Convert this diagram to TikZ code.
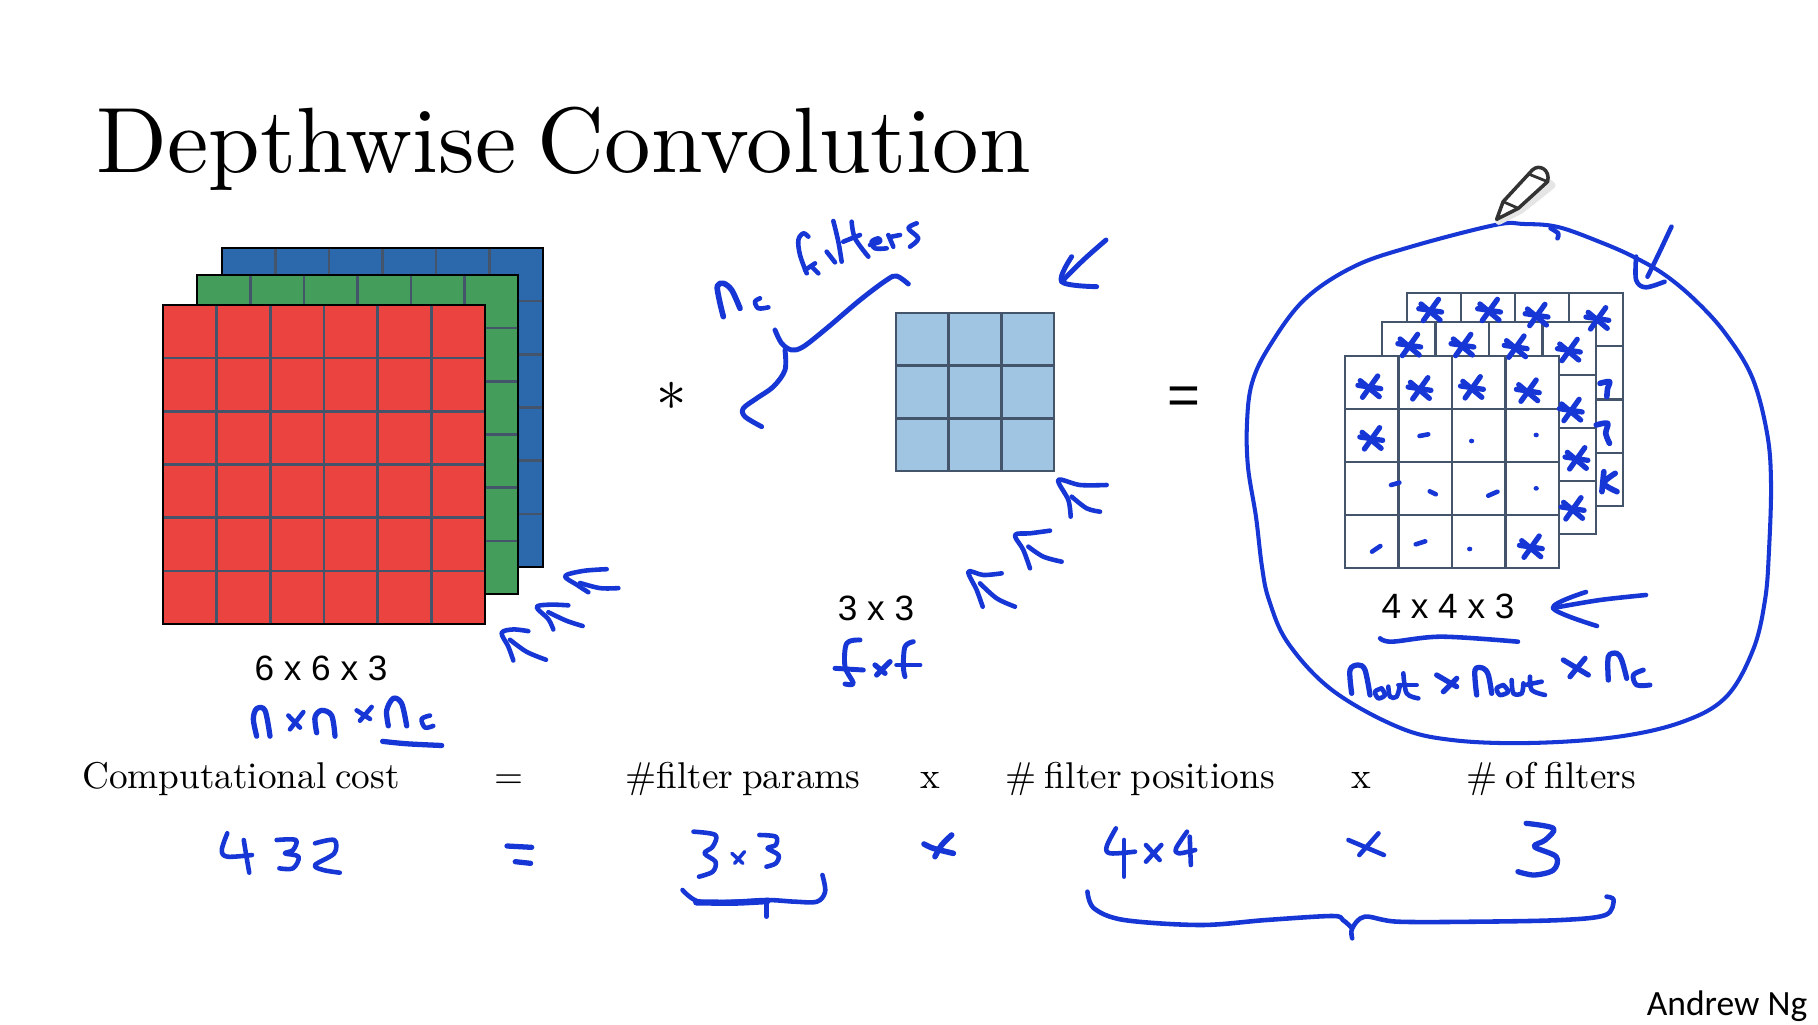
\documentclass[tikz,border=0pt]{standalone}
\usepackage{fontspec}
\newfontfamily\dimfont{Liberation Sans}
\newfontfamily\ngfont{Carlito}
\newfontfamily\slidefont{lmroman10-regular.otf}
\newfontfamily\rowfont[WordSpace=0.7]{lmroman10-regular.otf}
\definecolor{inkblue}{HTML}{1636D6}
\definecolor{redlayer}{HTML}{EA4340}
\definecolor{greenlayer}{HTML}{449D5B}
\definecolor{bluelayer}{HTML}{2C69AC}
\definecolor{filterfill}{HTML}{9FC5E2}
\definecolor{slateline}{HTML}{44546A}
\tikzset{
  ink/.style={draw=inkblue,line width=1.3pt,line cap=round,line join=round},
  titletext/.style={font=\slidefont\fontsize{26.4}{30}\selectfont,inner sep=0pt},
  costtext/.style={font=\rowfont\fontsize{10.6}{14}\selectfont,inner sep=0pt,anchor=base},
  dimtext/.style={font=\dimfont\fontsize{10}{12}\selectfont,inner sep=0pt},
  inputzone/.style={shift={(140,230)},xscale=1/3,yscale=1/2.904},
  filterzone/.style={shift={(660,200)},scale=1/3},
  wordzone/.style={shift={(780,205)},scale=1/3},
  stackzone/.style={shift={(1220,150)},xscale=0.38,yscale=1/3},
  shapezone/.style={shift={(1340,650)},scale=1/3},
  costzone/.style={shift={(60,740)},xscale=0.5485,yscale=1/3},
  boundzone/.style={shift={(960,600)},xscale=0.547,yscale=1/3},
  pics/hstar/.style={code={
    \draw[ink,line width=1.5pt] (-26,-18) -- (24,30);
    \draw[ink,line width=1.5pt] (20,-32) -- (-20,32);
    \draw[ink,line width=1.5pt] (-32,-4) -- (28,6);
  }}
}
% layer: x0,y0,x1,y1,cells,fill,inner lines,border
\newcommand{\layer}[8]{
  \fill[#6] (#1,#2) rectangle (#3,#4);
  \pgfmathsetmacro{\lastcell}{#5-1}
  \foreach \i in {1,...,\lastcell}{
    \draw[#7,line width=0.7pt] ({#1+(#3-#1)*\i/#5},#2) -- ({#1+(#3-#1)*\i/#5},#4);
    \draw[#7,line width=0.7pt] (#1,{#2+(#4-#2)*\i/#5}) -- (#3,{#2+(#4-#2)*\i/#5});
  }
  \draw[#8,line width=0.7pt] (#1,#2) rectangle (#3,#4);
}
\newcommand{\hw}[2][]{\draw[ink,#1] plot[smooth,tension=0.55] coordinates {#2};}

\begin{document}
\begin{tikzpicture}[x=0.01cm,y=-0.01cm]
  \useasboundingbox (0,0) rectangle (1818,1024);
  \fill[white] (0,0) rectangle (1818,1024);

  \node[titletext,anchor=base west] (title) at (96,172) {Depthwise Convolution};

  % input volume
  \layer{222}{248}{543}{567}{6}{bluelayer}{slateline}{black}
  \layer{197}{275}{518}{594}{6}{greenlayer}{slateline}{black}
  \layer{163}{305}{485}{624}{6}{redlayer}{slateline}{black}
  \node[dimtext] (inputdim) at (321,668) {6 x 6 x 3};

  \node[font=\fontsize{16}{16}\selectfont,inner sep=0pt] (star) at (672,396) {$*$};

  % filter
  \layer{896}{313}{1054}{471}{3}{filterfill}{slateline}{slateline}
  \node[dimtext] (filterdim) at (876,608) {3 x 3};

  \node[font=\dimfont\fontsize{16}{16}\selectfont,inner sep=0pt] (equals) at (1184,401) {=};

  % output volume
  \layer{1407}{293}{1623}{506}{4}{white}{slateline}{slateline}
  \layer{1382}{322}{1596}{534}{4}{white}{slateline}{slateline}
  \layer{1345}{356}{1559}{568}{4}{white}{slateline}{slateline}
  \node[dimtext] (outputdim) at (1448,606) {4 x 4 x 3};

  % cost row
  \node[costtext] (costname) at (241,788) {Computational cost};
  \node[costtext] (costeq) at (509,788) {=};
  \node[costtext] (params) at (743,788) {\#filter params};
  \node[costtext] (timesa) at (930,788) {x};
  \node[costtext] (positions) at (1140,788) {\# filter positions};
  \node[costtext] (timesb) at (1361,788) {x};
  \node[costtext] (numfilters) at (1551,788) {\# of filters};

  \node[font=\ngfont\fontsize{10.1}{12}\selectfont,inner sep=0pt] (credit) at (1727,1006) {Andrew Ng};

  % circle round the output
  \draw[ink,line width=1.15pt] plot[smooth cycle,tension=0.6] coordinates {
    (1495,225) (1410,247) (1353,267) (1304,300) (1269,347) (1252,383) (1247,423)
    (1248,467) (1256,517) (1262,567) (1269,600) (1288,643) (1332,690) (1398,727) (1452,740)
    (1529,743) (1616,737) (1682,722) (1726,697) (1753,650) (1765,600) (1769,550) (1771,483)
    (1767,433) (1752,377) (1725,333) (1695,300) (1665,275) (1634,257) (1600,242) (1558,227) (1524,224)};

  % handwriting round the input
  \begin{scope}[inputzone]
    \hw{(1165,1165)(1120,1160)(1085,1170)(1105,1210)(1120,1250)}
    \hw{(1110,1190)(1160,1225)(1218,1248)}
    \hw{(1285,1090)(1230,1088)(1190,1095)(1225,1130)(1240,1160)}
    \hw{(1225,1110)(1280,1135)(1328,1150)}
    \hw{(1400,985)(1330,990)(1275,1005)(1310,1030)(1345,1052)}
    \hw{(1320,1025)(1380,1040)(1435,1040)}
    \hw[line width=1.5pt]{(350,1470)(340,1420)(350,1390)(375,1395)(390,1470)}
    \hw{(445,1410)(480,1445)}
    \hw{(490,1400)(450,1450)}
    \hw[line width=1.5pt]{(530,1460)(525,1415)(545,1395)(575,1410)(585,1470)}
    \hw{(650,1395)(690,1420)}
    \hw{(695,1385)(660,1425)}
    \hw[line width=1.5pt]{(745,1440)(740,1395)(760,1360)(785,1375)(800,1440)}
    \hw{(870,1410)(845,1420)(855,1445)(880,1440)}
    \hw[line width=1.5pt]{(728,1485)(800,1492)(905,1497)}
  \end{scope}

  % handwriting round the filter
  \begin{scope}[filterzone]
    \hw[line width=1.4pt]{(745,252)(710,228)(680,240)(600,300)(500,385)(430,440)(395,450)(365,430)(345,390)}
    \hw[line width=1.4pt]{(375,450)(375,510)(340,560)(290,595)(250,625)(255,650)(305,680)}
    \hw[line width=1.6pt]{(190,350)(178,300)(172,258)(190,250)(215,270)(240,325)}
    \hw{(300,295)(285,305)(295,325)(325,322)}
    \hw[line width=1.4pt]{(1338,120)(1270,180)(1205,245)}
    \hw[line width=1.4pt]{(1235,170)(1205,245)(1310,260)}
    \hw{(1340,855)(1260,855)(1195,840)(1225,900)(1232,950)}
    \hw{(1235,890)(1280,925)(1320,935)}
    \hw{(1170,992)(1110,1000)(1065,1005)(1090,1050)(1110,1105)}
    \hw{(1105,1040)(1150,1070)(1205,1085)}
    \hw{(1025,1120)(970,1125)(925,1115)(950,1170)(968,1220)}
    \hw{(960,1150)(1010,1195)(1065,1220)}
    \hw[line width=1.4pt]{(600,1320)(560,1330)(555,1400)(580,1450)(555,1452)}
    \hw[line width=1.4pt]{(525,1405)(610,1410)}
    \hw[line width=1.5pt]{(645,1395)(675,1420)}
    \hw[line width=1.5pt]{(690,1385)(650,1425)}
    \hw[line width=1.4pt]{(760,1325)(735,1340)(730,1400)(735,1430)}
    \hw[line width=1.4pt]{(710,1395)(780,1395)}
  \end{scope}
  \begin{scope}[wordzone]
    \hw{(85,95)(70,85)(55,105)(60,150)(80,205)}
    \hw{(75,195)(105,175)}
    \hw{(95,185)(115,205)}
    \hw{(140,140)(165,172)}
    \hw{(160,48)(175,110)(185,170)}
    \hw{(215,50)(225,100)(265,155)}
    \hw{(190,110)(240,90)}
    \hw{(270,120)(300,110)(295,100)(275,110)(285,130)(320,130)}
    \hw{(325,90)(340,125)}
    \hw{(335,95)(360,90)}
    \hw{(410,55)(385,70)(415,100)(390,125)}
  \end{scope}

  % handwriting on the output
  \begin{scope}[stackzone]
    \foreach \px/\py in {555/480,710/480,835/495,995/505,500/585,640/585,780/590,920/600,925/780,940/925,930/1075,
      395/710,527/715,665/712,812/722,400/865,820/1190}{
      \pic[transform shape] at (\px,\py) {hstar};
    }
    \hw[line width=1.6pt]{(1000,700)(1025,695)(1020,715)(1018,740)}
    \hw[line width=1.6pt]{(990,825)(1020,820)(1015,850)(1025,880)}
    \hw[line width=1.6pt]{(1010,965)(1005,1025)}
    \hw[line width=1.6pt]{(1040,970)(1010,1000)(1045,1025)}
    \foreach \px/\py in {662/873,832/855,832/1015,657/1197}{
      \fill[inkblue] (\px,\py) circle [x radius=7,y radius=7];
    }
    \hw{(525,858)(548,853)}
    \hw{(450,1005)(472,998)}
    \hw{(552,1024)(568,1033)}
    \hw{(706,1037)(730,1025)}
    \hw{(400,1205)(422,1188)}
    \hw{(515,1183)(540,1174)}
    \hw{(1188,230)(1155,310)(1125,380)}
    \hw{(1095,320)(1095,390)(1120,412)(1170,395)}
    \hw{(870,235)(890,250)(888,265)}
    % pencil
    \draw[gray!20,line width=2pt,line join=round] (734,214) -- (751,161) -- (828,66) -- (874,106) -- (791,181) -- cycle;
    \draw[fill=white,draw=black!80,line width=1pt,line join=round] (728,208) -- (745,155) -- (822,60)
      .. controls (840,40) and (870,60) .. (862,95) -- (785,175) -- cycle;
    \draw[black!80,line width=0.8pt] (745,155) -- (785,175);
    \draw[black!80,line width=0.8pt] (812,72) -- (862,95);
  \end{scope}
  \begin{scope}[shapezone]
    \hw[line width=1.5pt]{(35,130)(30,60)(55,45)(75,60)(90,135)}
    \hw{(125,115)(105,125)(115,145)(135,135)(125,115)}
    \hw{(145,110)(150,140)(170,140)(180,105)}
    \hw{(190,70)(200,130)(235,145)}
    \hw{(175,105)(230,105)}
    \hw[line width=1.5pt]{(290,75)(350,110)}
    \hw[line width=1.5pt]{(350,85)(310,125)}
    \hw[line width=1.5pt]{(410,135)(405,60)(430,55)(445,75)(455,130)}
    \hw{(490,105)(470,115)(480,135)(505,125)(490,105)}
    \hw{(515,90)(520,130)(545,130)(550,100)}
    \hw{(570,80)(575,120)(615,135)}
    \hw{(555,105)(605,95)}
    \hw[line width=1.5pt]{(670,30)(745,75)}
    \hw[line width=1.5pt]{(735,25)(690,80)}
    \hw[line width=1.5pt]{(805,90)(805,20)(830,10)(845,30)(860,85)}
    \hw[line width=1.4pt]{(910,60)(880,75)(890,105)(930,105)}
  \end{scope}

  % handwriting under the cost row
  \begin{scope}[costzone]
    \hw{(305,280)(295,330)(305,350)(350,345)}
    \hw{(335,300)(340,350)(345,398)}
    \hw{(395,300)(430,300)(425,330)(410,340)(435,350)(425,385)(400,385)}
    \hw{(465,310)(500,300)(500,340)(465,375)(480,390)(510,398)}
    \hw[line width=1.5pt]{(815,318)(860,322)}
    \hw[line width=1.5pt]{(830,365)(858,370)}
    \hw{(1155,275)(1195,285)(1190,320)(1175,340)(1195,365)(1190,395)(1165,410)}
    \hw[line width=1pt]{(1225,340)(1245,370)}
    \hw[line width=1pt]{(1248,335)(1230,370)}
    \hw{(1275,285)(1305,290)(1305,315)(1290,325)(1310,345)(1305,370)(1288,380)}
    \hw{(1135,450)(1165,485)(1230,485)(1290,480)(1340,485)(1380,485)(1395,455)(1390,405)}
    \hw[line width=1.8pt]{(1160,487)(1230,488)(1290,483)}
    \hw{(1288,490)(1288,530)}
  \end{scope}
  \begin{scope}[wordzone,shift={(360,1845)}]
    \hw[line width=1.6pt]{(72,72)(100,85)(160,100)}
    \hw[line width=1.6pt]{(155,45)(125,75)(105,110)}
  \end{scope}
  \begin{scope}[boundzone]
    \hw{(285,685)(268,740)(275,760)(320,755)}
    \hw{(300,720)(300,830)}
    \hw{(340,735)(365,780)}
    \hw{(368,735)(340,785)}
    \hw{(415,695)(395,745)(400,760)(430,750)}
    \hw{(420,710)(422,795)}
    \hw{(710,720)(775,765)}
    \hw{(765,700)(730,765)}
    \hw[line width=1.5pt]{(1035,670)(1085,685)(1070,720)(1050,740)(1090,770)(1085,810)(1050,825)(1020,815)}
    \hw{(233,875)(245,925)(300,960)(440,975)(560,960)(680,948)(700,960)(717,985)}
    \hw{(717,1015)(717,985)(740,950)(800,965)(950,965)(1100,960)(1180,945)(1195,900)(1182,890)}
    \hw{(768,115)(790,125)(880,110)(1020,125)}
  \end{scope}
  % arrow at the output size
  \hw{(1646,595)(1600,600)(1553,608)}
  \hw{(1586,592)(1553,608)(1597,626)}
\end{tikzpicture}
\end{document}
